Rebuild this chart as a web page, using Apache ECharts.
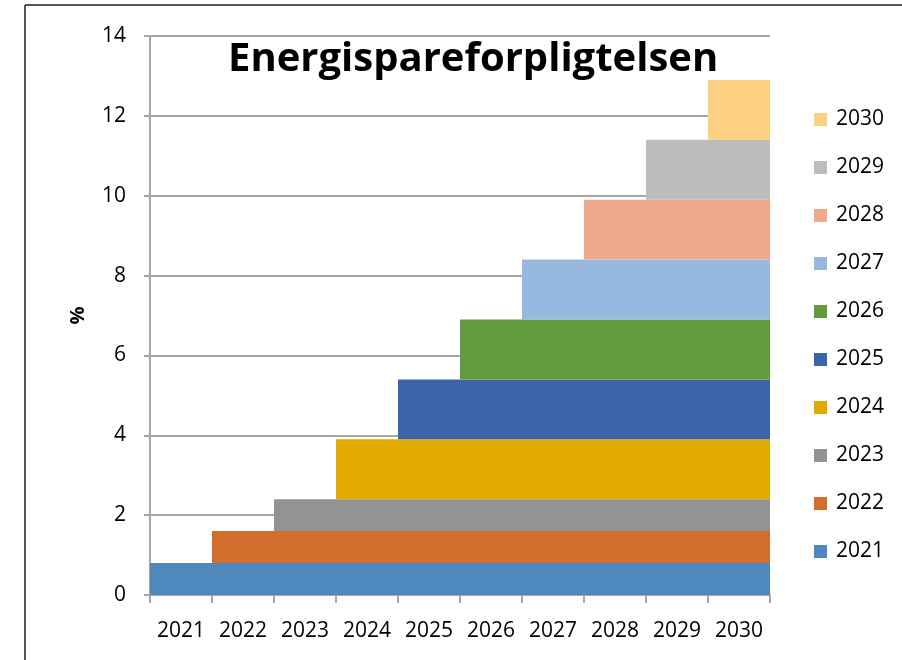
<!DOCTYPE html>
<html>
<head>
<meta charset="utf-8">
<script src="https://cdn.jsdelivr.net/npm/echarts@6/dist/echarts.min.js"></script>
<style>
  html, body { margin: 0; padding: 0; background: #fff; }
  #chart { width: 902px; height: 660px; }
</style>
</head>
<body>
<div id="chart"></div>
<script>
// x-axis categories (years) and one series per year
const years = ["2021", "2022", "2023", "2024", "2025", "2026", "2027", "2028", "2029", "2030"];
// extra savings added by each year's obligation (%), stacked from that year on
const yearIncrements = [0.8, 0.8, 0.8, 1.5, 1.5, 1.5, 1.5, 1.5, 1.5, 1.5];
const seriesColors = ["#4e88bd", "#d26e2b", "#939393", "#e1aa00", "#3c64ac",
  "#629b3f", "#98b9df", "#f0a88a", "#bdbdbd", "#fed081"];
const yTicks = [0, 2, 4, 6, 8, 10, 12, 14];

const chart = echarts.init(document.getElementById("chart"));

// each series is empty before its start year, then holds its increment
const series = years.map((year, i) => ({
  name: year,
  type: "bar",
  stack: "total",
  barCategoryGap: "0%",
  itemStyle: { color: seriesColors[i] },
  data: years.map((_, j) => (j >= i ? yearIncrements[i] : "-")),
}));

const font = "'Open Sans', 'Liberation Sans', sans-serif";

const option = {
  animation: false,
  textStyle: { fontFamily: font },
  title: {
    text: "Energispareforpligtelsen",
    left: 223,
    top: 35,
    textStyle: { fontSize: 40, fontWeight: "bold", color: "#000", fontFamily: font },
  },
  grid: { left: 150, right: 132, top: 36, bottom: 65 },
  legend: {
    orient: "vertical",
    left: 809,
    top: 104,
    itemWidth: 13,
    itemHeight: 13,
    itemGap: 27,
    icon: "rect",
    data: years.slice().reverse(),
    textStyle: { fontSize: 21, lineHeight: 21, color: "#000", fontFamily: font, padding: [0, 0, 0, 4] },
  },
  xAxis: {
    type: "category",
    data: years,
    axisLine: { lineStyle: { color: "#a6a6a6", width: 2 } },
    axisTick: { show: true, interval: 0, length: 8, lineStyle: { color: "#a6a6a6", width: 2 } },
    axisLabel: { margin: 26, fontSize: 21, color: "#000", interval: 0 },
  },
  yAxis: {
    type: "value",
    min: yTicks[0],
    max: yTicks[yTicks.length - 1],
    interval: 2,
    name: "%",
    nameLocation: "middle",
    nameGap: 62,
    nameTextStyle: { fontSize: 20, fontWeight: "bold", color: "#000" },
    axisLine: { show: true, lineStyle: { color: "#a6a6a6", width: 2 } },
    axisTick: { show: true, length: 6, lineStyle: { color: "#a6a6a6", width: 2 } },
    axisLabel: { margin: 24, fontSize: 21, color: "#000" },
    splitLine: { lineStyle: { color: "#a6a6a6", width: 2 } },
  },
  graphic: [
    { type: "line", shape: { x1: 25, y1: 5, x2: 902, y2: 5 }, style: { stroke: "#555", lineWidth: 2 } },
    { type: "line", shape: { x1: 25, y1: 5, x2: 25, y2: 660 }, style: { stroke: "#555", lineWidth: 2 } },
  ],
  series: series,
};

chart.setOption(option);
</script>
</body>
</html>
